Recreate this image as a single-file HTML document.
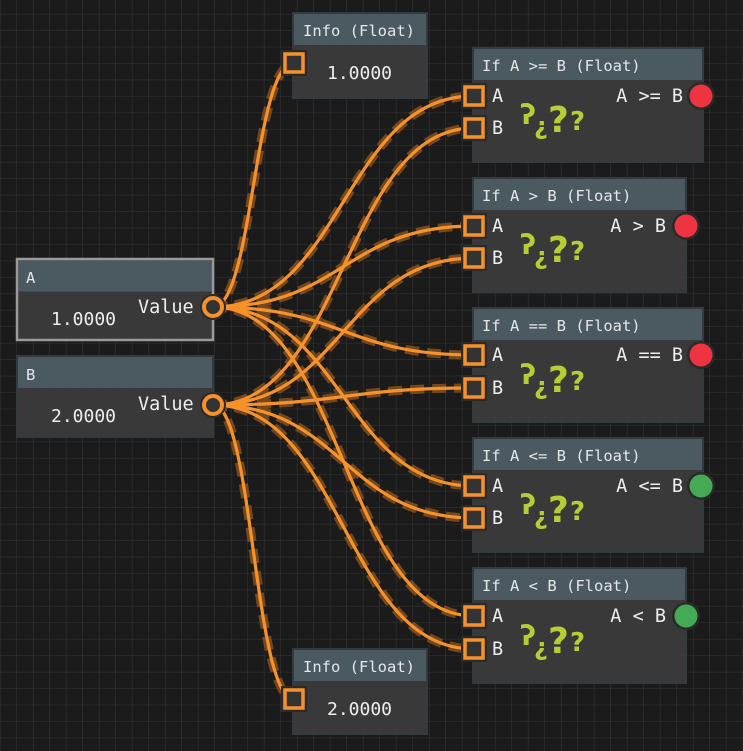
<!DOCTYPE html>
<html><head><meta charset="utf-8"><style>
html,body{margin:0;padding:0;background:#1b1b1b;}
svg{display:block;}
text{font-family:"DejaVu Sans Mono","Liberation Mono",monospace;fill:#eeeeee;}
.t{font-size:15.5px;fill:#e6e6e6;}
.l{font-size:18.5px;}
.v{font-size:18px;}
.q{fill:#b9cc35;font-family:"DejaVu Sans","Liberation Sans",sans-serif;font-weight:bold;}
</style></head><body>
<svg width="743" height="751" viewBox="0 0 743 751" xmlns="http://www.w3.org/2000/svg">
<defs>
<pattern id="g" x="0.5" y="-2" width="16.5" height="16.45" patternUnits="userSpaceOnUse">
<path d="M16.5 0V16.45M0 16.45H16.5" stroke="#303030" stroke-width="1.3" fill="none"/>
</pattern>
<g id="port"><rect x="-13" y="-13" width="26" height="26" fill="#2a2a2a"/><rect x="-9" y="-9" width="18" height="18" fill="#333" stroke="#f7922a" stroke-width="3.5"/></g>
<g id="qq"><text class="q" x="0" y="0" font-size="28" font-weight="normal">ʔ</text><text class="q" x="14" y="10" font-size="24" font-weight="normal">¿</text><text class="q" x="28" y="8" font-size="36">?</text><text class="q" x="50" y="6" font-size="26" font-weight="normal">?</text></g>
</defs>
<rect width="743" height="751" fill="#1b1b1b"/>
<rect width="743" height="751" fill="url(#g)"/>

<g fill="none" stroke-linecap="butt">
<g stroke="#8a5420" stroke-width="9" stroke-dasharray="14 8" opacity="0.8">
<path d="M213 307C253 307 254 63 294 63"/>
<path d="M213 307C343 307 344 96 474 96"/>
<path d="M213 307C343 307 344 226 474 226"/>
<path d="M213 307C343 307 344 355 474 355"/>
<path d="M213 307C343 307 344 486 474 486"/>
<path d="M213 307C343 307 344 616 474 616"/>
<path d="M213 405C343 405 344 128 474 128"/>
<path d="M213 405C343 405 344 258 474 258"/>
<path d="M213 405C343 405 344 388 474 388"/>
<path d="M213 405C343 405 344 518 474 518"/>
<path d="M213 405C343 405 344 649 474 649"/>
<path d="M213 405C253 405 254 699 294 699"/>
</g>
<g stroke="#f7922a" stroke-width="3.2">
<path d="M213 307C253 307 254 63 294 63"/>
<path d="M213 307C343 307 344 96 474 96"/>
<path d="M213 307C343 307 344 226 474 226"/>
<path d="M213 307C343 307 344 355 474 355"/>
<path d="M213 307C343 307 344 486 474 486"/>
<path d="M213 307C343 307 344 616 474 616"/>
<path d="M213 405C343 405 344 128 474 128"/>
<path d="M213 405C343 405 344 258 474 258"/>
<path d="M213 405C343 405 344 388 474 388"/>
<path d="M213 405C343 405 344 518 474 518"/>
<path d="M213 405C343 405 344 649 474 649"/>
<path d="M213 405C253 405 254 699 294 699"/>
</g>
</g>

<rect x="293" y="13" width="134" height="85" fill="rgba(60,60,60,0.92)" stroke="#323b40" stroke-width="2"/>
<rect x="294" y="14" width="132" height="31" fill="#4b5a61"/>
<text class="t" x="303" y="36">Info (Float)</text>
<text class="v" x="327" y="79">1.0000</text>
<use href="#port" x="294" y="63"/>

<rect x="293" y="649" width="134" height="85" fill="rgba(60,60,60,0.92)" stroke="#323b40" stroke-width="2"/>
<rect x="294" y="650" width="132" height="31" fill="#4b5a61"/>
<text class="t" x="303" y="672">Info (Float)</text>
<text class="v" x="327" y="715">2.0000</text>
<use href="#port" x="294" y="699"/>

<rect x="17" y="259" width="196" height="81" fill="rgba(60,60,60,0.92)" stroke="#9a9a9a" stroke-width="2.5"/>
<rect x="18.5" y="260.5" width="193" height="31" fill="#4b5a61"/>
<text class="t" x="26" y="283">A</text>
<text class="l" x="138" y="313">Value</text>
<text class="v" x="51" y="325">1.0000</text>
<circle cx="213" cy="307" r="13" fill="#2a2a2a"/><circle cx="213" cy="307" r="9" fill="#333" stroke="#f7922a" stroke-width="4"/>

<rect x="17" y="356" width="196" height="81" fill="rgba(60,60,60,0.92)" stroke="#323b40" stroke-width="2"/>
<rect x="18" y="357" width="194" height="31" fill="#4b5a61"/>
<text class="t" x="26" y="380">B</text>
<text class="l" x="138" y="410">Value</text>
<text class="v" x="51" y="422">2.0000</text>
<circle cx="213" cy="405" r="13" fill="#2a2a2a"/><circle cx="213" cy="405" r="9" fill="#333" stroke="#f7922a" stroke-width="4"/>

<g>
<rect x="473" y="48" width="230" height="114" fill="rgba(60,60,60,0.92)" stroke="#323b40" stroke-width="2"/>
<rect x="474" y="49" width="228" height="31" fill="#4b5a61"/>
<text class="t" x="482" y="71">If A &gt;= B (Float)</text>
<text class="l" x="492" y="102">A</text><text class="l" x="492" y="134">B</text>
<text class="l" x="683" y="102" text-anchor="end">A &gt;= B</text>
<use href="#port" x="474" y="96"/><use href="#port" x="474" y="128"/>
<circle cx="701" cy="96" r="14" fill="#2a2a2a"/><circle cx="701" cy="96" r="11.5" fill="#ee3440"/>
<use href="#qq" x="520" y="124"/>
</g>
<g>
<rect x="473" y="178" width="213" height="114" fill="rgba(60,60,60,0.92)" stroke="#323b40" stroke-width="2"/>
<rect x="474" y="179" width="211" height="31" fill="#4b5a61"/>
<text class="t" x="482" y="201">If A &gt; B (Float)</text>
<text class="l" x="492" y="232">A</text><text class="l" x="492" y="264">B</text>
<text class="l" x="666" y="232" text-anchor="end">A &gt; B</text>
<use href="#port" x="474" y="226"/><use href="#port" x="474" y="258"/>
<circle cx="686" cy="226" r="14" fill="#2a2a2a"/><circle cx="686" cy="226" r="11.5" fill="#ee3440"/>
<use href="#qq" x="520" y="254"/>
</g>
<g>
<rect x="473" y="308" width="230" height="114" fill="rgba(60,60,60,0.92)" stroke="#323b40" stroke-width="2"/>
<rect x="474" y="309" width="228" height="31" fill="#4b5a61"/>
<text class="t" x="482" y="331">If A == B (Float)</text>
<text class="l" x="492" y="361">A</text><text class="l" x="492" y="394">B</text>
<text class="l" x="683" y="361" text-anchor="end">A == B</text>
<use href="#port" x="474" y="355"/><use href="#port" x="474" y="388"/>
<circle cx="701" cy="355" r="14" fill="#2a2a2a"/><circle cx="701" cy="355" r="11.5" fill="#ee3440"/>
<use href="#qq" x="520" y="384"/>
</g>
<g>
<rect x="473" y="438" width="230" height="114" fill="rgba(60,60,60,0.92)" stroke="#323b40" stroke-width="2"/>
<rect x="474" y="439" width="228" height="31" fill="#4b5a61"/>
<text class="t" x="482" y="461">If A &lt;= B (Float)</text>
<text class="l" x="492" y="492">A</text><text class="l" x="492" y="524">B</text>
<text class="l" x="683" y="492" text-anchor="end">A &lt;= B</text>
<use href="#port" x="474" y="486"/><use href="#port" x="474" y="518"/>
<circle cx="701" cy="486" r="14" fill="#2a2a2a"/><circle cx="701" cy="486" r="11.5" fill="#45aa55"/>
<use href="#qq" x="520" y="514"/>
</g>
<g>
<rect x="473" y="568" width="213" height="115" fill="rgba(60,60,60,0.92)" stroke="#323b40" stroke-width="2"/>
<rect x="474" y="569" width="211" height="31" fill="#4b5a61"/>
<text class="t" x="482" y="591">If A &lt; B (Float)</text>
<text class="l" x="492" y="622">A</text><text class="l" x="492" y="655">B</text>
<text class="l" x="666" y="622" text-anchor="end">A &lt; B</text>
<use href="#port" x="474" y="616"/><use href="#port" x="474" y="649"/>
<circle cx="686" cy="616" r="14" fill="#2a2a2a"/><circle cx="686" cy="616" r="11.5" fill="#45aa55"/>
<use href="#qq" x="520" y="645"/>
</g>
</svg>
</body></html>
